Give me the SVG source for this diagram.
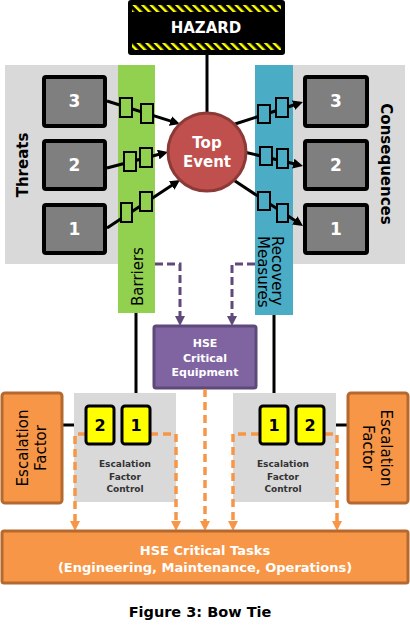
<svg xmlns="http://www.w3.org/2000/svg" width="410" height="632" viewBox="0 0 410 632">
<style>
text{font-family:"DejaVu Sans","Liberation Sans",sans-serif}
.gbg{fill:#d9d9d9}
.box{fill:#7f7f7f;stroke:#000;stroke-width:4}
.num{fill:#fff;font-weight:bold;font-size:17px;text-anchor:middle}
.lbl{fill:#000;font-size:15px}
.b{font-weight:bold}
.ln{fill:none;stroke:#000;stroke-width:3}
.gb{fill:#92d050;stroke:#000;stroke-width:2}
.bb{fill:#4bacc6;stroke:#000;stroke-width:2}
.pd{fill:none;stroke:#604a7b;stroke-width:3;stroke-dasharray:8 4}
.od{fill:none;stroke:#f79646;stroke-width:3.5;stroke-dasharray:8 5}
.yb{fill:#ffff00;stroke:#000;stroke-width:3}
.ynum{fill:#000;font-weight:bold;font-size:16px;text-anchor:middle}
.orb{fill:#f79646;stroke:#b5692e;stroke-width:3}
.efc{fill:#333;font-size:9px;font-weight:bold;text-anchor:middle}
.wt{fill:#fff;font-weight:bold;text-anchor:middle}
</style>
<defs>
<pattern id="haz" width="6" height="6" patternUnits="userSpaceOnUse" patternTransform="rotate(-45)">
<rect x="0" y="0" width="2.5" height="6" fill="#ffff00"/>
</pattern>
<marker id="ab" viewBox="0 0 10 10" refX="3" refY="5" markerWidth="10" markerHeight="10" markerUnits="userSpaceOnUse" orient="auto"><path d="M0,0 L10,5 L0,10 z" fill="#000"/></marker>
<marker id="ap" viewBox="0 0 10 10" refX="3" refY="5" markerWidth="10" markerHeight="11" markerUnits="userSpaceOnUse" orient="auto"><path d="M0,0 L10,5 L0,10 z" fill="#604a7b"/></marker>
<marker id="ao" viewBox="0 0 10 10" refX="3" refY="5" markerWidth="10" markerHeight="12" markerUnits="userSpaceOnUse" orient="auto"><path d="M0,0 L10,5 L0,10 z" fill="#f79646"/></marker>
</defs>
<rect width="410" height="632" fill="#fff"/>

<g id="threats-panel">
<rect class="gbg" x="5" y="65" width="113" height="199"/>
<text class="lbl b" text-anchor="middle" dominant-baseline="central" transform="translate(23,165) rotate(-90)">Threats</text>
</g>
<g id="consequences-panel">
<rect class="gbg" x="293" y="65" width="112" height="199"/>
<text class="lbl b" text-anchor="middle" dominant-baseline="central" transform="translate(386,164) rotate(90)">Consequences</text>
</g>
<g id="barriers">
<rect x="118" y="65" width="37" height="248" fill="#92d050"/>
<text class="lbl" dominant-baseline="central" transform="translate(137.5,306) rotate(-90)">Barriers</text>
</g>
<g id="recovery-measures">
<rect x="255" y="65" width="38" height="250" fill="#4bacc6"/>
<text class="lbl" dominant-baseline="central" transform="translate(277,236) rotate(90)">Recovery</text>
<text class="lbl" dominant-baseline="central" transform="translate(263,236) rotate(90)">Measures</text>
</g>

<g id="connectors">
<line class="ln" x1="207" y1="54" x2="207" y2="115"/>
<line class="ln" x1="107" y1="101" x2="173.3" y2="121.9" marker-end="url(#ab)"/>
<line class="ln" x1="107" y1="168" x2="161.2" y2="153.8" marker-end="url(#ab)"/>
<line class="ln" x1="107" y1="228" x2="174.2" y2="183.8" marker-end="url(#ab)"/>
<line class="ln" x1="235" y1="124" x2="296.3" y2="104.2" marker-end="url(#ab)"/>
<line class="ln" x1="244" y1="152" x2="296.2" y2="164.3" marker-end="url(#ab)"/>
<line class="ln" x1="232" y1="179" x2="297.2" y2="222.1" marker-end="url(#ab)"/>
<path class="pd" d="M155,264 H180 V319" marker-end="url(#ap)"/>
<path class="pd" d="M255,264 H232 V319" marker-end="url(#ap)"/>
<line class="ln" x1="136" y1="313" x2="136" y2="406"/>
<line class="ln" x1="274" y1="315" x2="274" y2="406"/>
<line class="ln" x1="62" y1="425" x2="86" y2="425"/>
<line class="ln" x1="114" y1="425" x2="122" y2="425"/>
<line class="ln" x1="288" y1="425" x2="296" y2="425"/>
<line class="ln" x1="324" y1="425" x2="348" y2="425"/>
</g>

<g id="barrier-blocks">
<rect class="gb" x="120" y="98" width="12" height="19"/>
<rect class="gb" x="141" y="104" width="12" height="19"/>
<rect class="gb" x="124" y="152" width="12" height="19"/>
<rect class="gb" x="140" y="148" width="12" height="19"/>
<rect class="gb" x="121" y="203" width="11" height="19"/>
<rect class="gb" x="140" y="192" width="12" height="19"/>
</g>
<g id="recovery-blocks">
<rect class="bb" x="258" y="105" width="12" height="18"/>
<rect class="bb" x="276" y="98" width="12" height="19"/>
<rect class="bb" x="260" y="147" width="12" height="18"/>
<rect class="bb" x="277" y="149" width="11" height="19"/>
<rect class="bb" x="258" y="192" width="12" height="18"/>
<rect class="bb" x="277" y="204" width="11" height="18"/>
</g>

<g id="hazard">
<rect x="128" y="0" width="157" height="55" rx="3" fill="#000"/>
<rect x="132" y="5" width="149" height="7" fill="url(#haz)"/>
<rect x="132" y="43" width="149" height="7" fill="url(#haz)"/>
<text class="wt" x="206" y="33" font-size="15">HAZARD</text>
</g>

<g id="top-event">
<circle cx="207" cy="152" r="39" fill="#c0504d" stroke="#8c3a37" stroke-width="3"/>
<text class="wt" x="207" y="148" font-size="15">Top</text>
<text class="wt" x="207" y="167" font-size="15">Event</text>
</g>

<g id="threat-3"><rect class="box" x="44" y="77" width="61" height="49" rx="2"/><text class="num" x="74.5" y="107">3</text></g>
<g id="threat-2"><rect class="box" x="44" y="141" width="61" height="48" rx="2"/><text class="num" x="74.5" y="171">2</text></g>
<g id="threat-1"><rect class="box" x="44" y="205" width="61" height="48" rx="2"/><text class="num" x="74.5" y="235">1</text></g>
<g id="consequence-3"><rect class="box" x="305" y="77" width="62" height="49" rx="2"/><text class="num" x="336" y="107">3</text></g>
<g id="consequence-2"><rect class="box" x="305" y="141" width="62" height="48" rx="2"/><text class="num" x="336" y="171">2</text></g>
<g id="consequence-1"><rect class="box" x="305" y="205" width="62" height="48" rx="2"/><text class="num" x="336" y="235">1</text></g>

<g id="hse-critical-equipment">
<rect x="154" y="326" width="102" height="62" rx="2" fill="#8064a2" stroke="#5c4a7a" stroke-width="3"/>
<text class="wt" x="205" y="347" font-size="11">HSE</text>
<text class="wt" x="205" y="362" font-size="11">Critical</text>
<text class="wt" x="205" y="376" font-size="11">Equipment</text>
</g>

<g id="escalation-control-left">
<rect class="gbg" x="74" y="393" width="102" height="109"/>
<text class="efc" x="125" y="467">Escalation</text>
<text class="efc" x="125" y="480">Factor</text>
<text class="efc" x="125" y="492">Control</text>
</g>
<g id="escalation-control-right">
<rect class="gbg" x="233" y="393" width="103" height="109"/>
<text class="efc" x="283" y="467">Escalation</text>
<text class="efc" x="283" y="480">Factor</text>
<text class="efc" x="283" y="492">Control</text>
</g>

<g id="task-connectors">
<path class="od" d="M86,434 H75 V524" marker-end="url(#ao)"/>
<path class="od" d="M150,434 H176 V524" marker-end="url(#ao)"/>
<path class="od" d="M205,389 V524" marker-end="url(#ao)"/>
<path class="od" d="M259,434 H233 V524" marker-end="url(#ao)"/>
<path class="od" d="M325,434 H337 V524" marker-end="url(#ao)"/>
</g>

<g id="left-control-2"><rect class="yb" x="86" y="406" width="28" height="38" rx="3"/><text class="ynum" x="100" y="431">2</text></g>
<g id="left-control-1"><rect class="yb" x="122" y="406" width="28" height="38" rx="3"/><text class="ynum" x="136" y="431">1</text></g>
<g id="right-control-1"><rect class="yb" x="260" y="406" width="28" height="38" rx="3"/><text class="ynum" x="274" y="431">1</text></g>
<g id="right-control-2"><rect class="yb" x="296" y="406" width="28" height="38" rx="3"/><text class="ynum" x="310" y="431">2</text></g>

<g id="escalation-factor-left">
<rect class="orb" x="2" y="393" width="60" height="110" rx="3"/>
<text class="lbl" text-anchor="middle" dominant-baseline="central" transform="translate(23,448) rotate(-90)">Escalation</text>
<text class="lbl" text-anchor="middle" dominant-baseline="central" transform="translate(41,448) rotate(-90)">Factor</text>
</g>
<g id="escalation-factor-right">
<rect class="orb" x="348" y="393" width="60" height="110" rx="3"/>
<text class="lbl" text-anchor="middle" dominant-baseline="central" transform="translate(386,448) rotate(90)">Escalation</text>
<text class="lbl" text-anchor="middle" dominant-baseline="central" transform="translate(368,448) rotate(90)">Factor</text>
</g>

<g id="hse-critical-tasks">
<rect class="orb" x="2" y="531" width="406" height="52" rx="2"/>
<text class="wt" x="205" y="555" font-size="13">HSE Critical Tasks</text>
<text class="wt" x="205" y="572" font-size="13">(Engineering, Maintenance, Operations)</text>
</g>

<text x="200" y="617" font-size="14.5" font-weight="bold" text-anchor="middle" fill="#000">Figure 3: Bow Tie</text>
</svg>
